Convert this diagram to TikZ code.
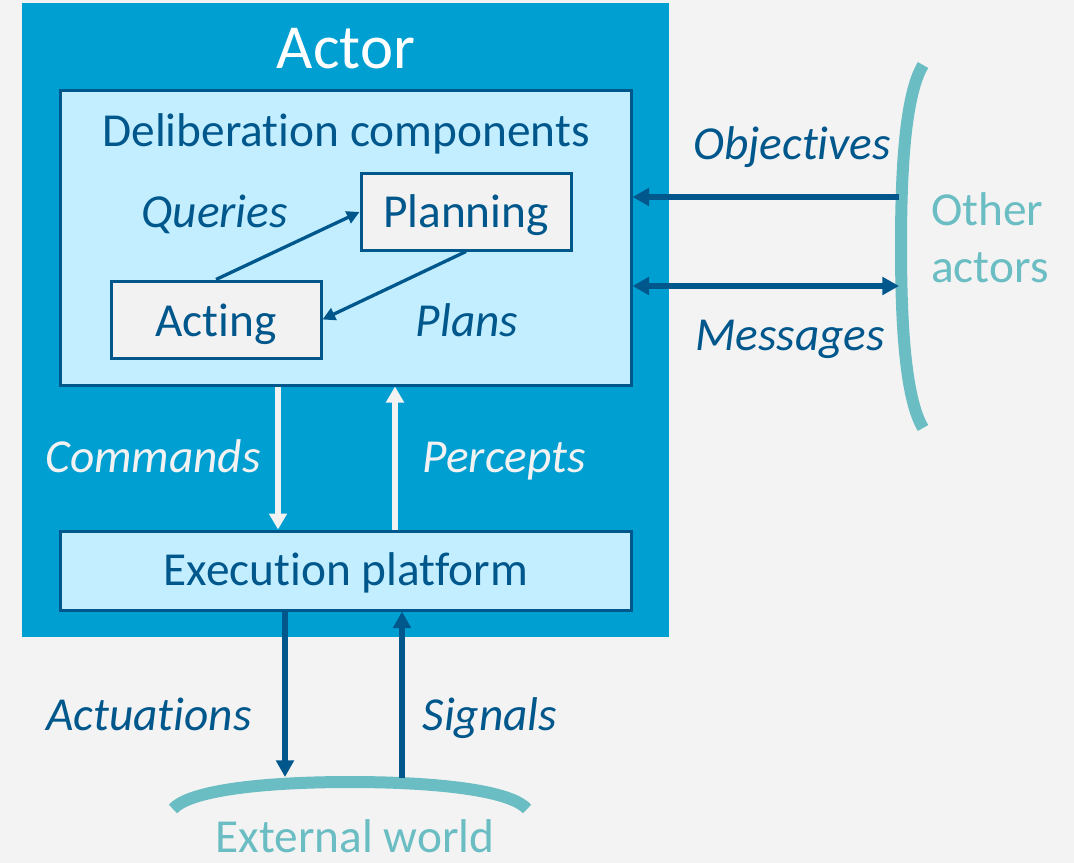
\documentclass[tikz,border=0pt]{standalone}
\usepackage{fontspec}
\setmainfont{Carlito}[Ligatures={NoCommon}]
\usetikzlibrary{arrows.meta}
\definecolor{bg}{HTML}{F3F3F3}
\definecolor{actorblue}{HTML}{009FD1}
\definecolor{lightblue}{HTML}{C2EEFF}
\definecolor{darkblue}{HTML}{00578C}
\definecolor{tealc}{HTML}{6ABDC3}
\definecolor{paleg}{HTML}{F2F2F2}
\begin{document}
\begin{tikzpicture}[x=0.75pt,y=-0.75pt,
  txt/.style={inner sep=0pt, anchor=base, font=\fontsize{35.5}{42}\selectfont},
  lbl/.style={txt, font=\fontsize{35.5}{42}\selectfont\itshape, text=darkblue},
  wlbl/.style={txt, font=\fontsize{35.5}{42}\selectfont\itshape, text=paleg},
  panel/.style={draw=darkblue, line width=2.25pt, fill=lightblue, inner sep=0pt},
  subbox/.style={draw=darkblue, line width=2.25pt, fill=paleg, inner sep=0pt,
     minimum width=157.5pt, minimum height=57pt},
  darrow/.style={draw=darkblue, line width=4pt, -{Triangle[length=12.5pt,width=13pt]}},
  dboth/.style={draw=darkblue, line width=4pt, {Triangle[length=12.5pt,width=13pt]}-{Triangle[length=12.5pt,width=13pt]}},
  warrow/.style={draw=paleg, line width=4.2pt, -{Triangle[length=12pt,width=13pt]}},
  sarrow/.style={draw=darkblue, line width=2.5pt, -{Triangle[length=9.5pt,width=9.5pt]}},
  tealline/.style={draw=tealc, line width=9pt}
]
\path[use as bounding box, fill=bg] (0,0) rectangle (1074,863);

% actor box
\node[fill=actorblue, inner sep=0pt, minimum width=485.25pt, minimum height=475.5pt] (actor) at (345.5,320) {};
\node[txt, font=\fontsize{47}{56}\selectfont, text=white] (actortitle) at (346,69) {Actor};

% deliberation
\node[panel, minimum width=428.25pt, minimum height=220.5pt] (delib) at (345.5,238) {};
\node[txt, text=darkblue] (delibtitle) at (346,147) {Deliberation components};
\node[subbox] (planning) at (466,212) {};
\node[txt, text=darkblue] (planningt) at (466,227) {Planning};
\node[subbox, minimum height=57.75pt] (acting) at (216,319.5) {};
\node[txt, text=darkblue] (actingt) at (216,336) {Acting};
\node[lbl] (queries) at (214.5,227) {Queries};
\node[lbl] (plans) at (467,336) {Plans};
\draw[sarrow] (acting.north) -- (planning.west);
\draw[sarrow] (planning.south) -- (acting.east);

% execution platform
\node[panel, minimum width=428.25pt, minimum height=59.25pt] (exec) at (345.5,570.5) {};
\node[txt, text=darkblue] (exect) at (346,585) {Execution platform};

% commands / percepts
\coordinate (cmdx) at (278,0);
\coordinate (perx) at (395,0);
\draw[warrow] (delib.south -| cmdx) -- (exec.north -| cmdx);
\draw[warrow] (exec.north -| perx) -- (delib.south -| perx);
\node[wlbl] (commands) at (153,472) {Commands};
\node[wlbl] (percepts) at (504,472) {Percepts};

% external world
\draw[tealline] (173,809) .. controls (190,790) and (265,782) .. (350,782)
  .. controls (435,782) and (510,790) .. (527,809);
\coordinate (actend) at (285,777);
\coordinate (sigstart) at (402,778);
\draw[darrow] (exec.south -| actend) -- (actend);
\draw[darrow] (sigstart) -- (exec.south -| sigstart);
\node[lbl] (actuations) at (149,730) {Actuations};
\node[lbl] (signals) at (490,730) {Signals};
\node[txt, text=tealc] (world) at (355,852) {External world};

% other actors
\draw[tealline] (923,65) .. controls (905,95) and (901,170) .. (901,246)
  .. controls (901,322) and (905,398) .. (923,428);
\coordinate (objstart) at (899,197);
\coordinate (msgend) at (899,286);
\draw[darrow] (objstart) -- (delib.east |- objstart);
\draw[dboth] (delib.east |- msgend) -- (msgend);
\node[lbl] (objectives) at (792,160) {Objectives};
\node[lbl] (messages) at (790,350) {Messages};
\node[txt, text=tealc, anchor=base west] (other) at (931,225) {Other};
\node[txt, text=tealc, anchor=base west] (actors) at (931,282) {actors};
\end{tikzpicture}
\end{document}
